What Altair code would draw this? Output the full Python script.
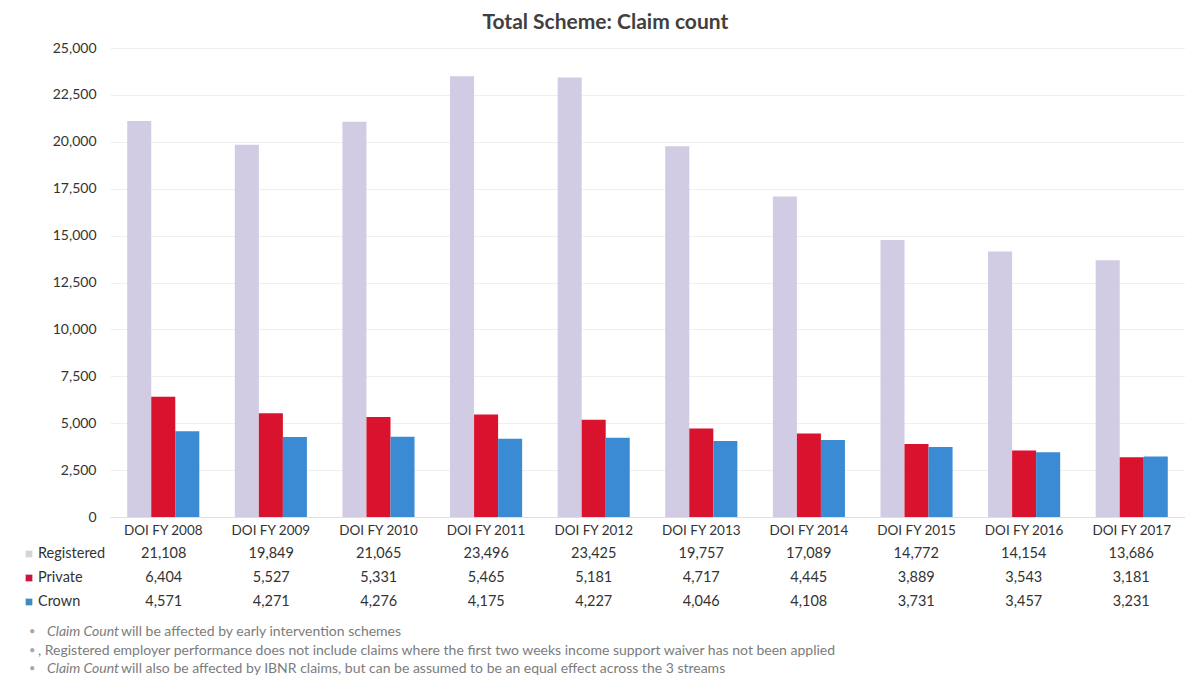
import altair as alt
import pandas as pd

categories = ["DOI FY 2008", "DOI FY 2009", "DOI FY 2010", "DOI FY 2011", "DOI FY 2012",
              "DOI FY 2013", "DOI FY 2014", "DOI FY 2015", "DOI FY 2016", "DOI FY 2017"]
series_names = ["Registered", "Private", "Crown"]
registered = [21108, 19849, 21065, 23496, 23425, 19757, 17089, 14772, 14154, 13686]
private = [6404, 5527, 5331, 5465, 5181, 4717, 4445, 3889, 3543, 3181]
crown = [4571, 4271, 4276, 4175, 4227, 4046, 4108, 3731, 3457, 3231]
series_colors = ["#d1cbe3", "#d9132e", "#3b8bd4"]
legend_colors = ["#d4d4d8", "#c8173f", "#3a8cc6"]

footnote_italic = ["Claim Count", "", "Claim Count"]
footnote_rest = [" will be affected by early intervention schemes",
                 ", Registered employer performance does not include claims where the first two weeks income support waiver has not been applied",
                 " will also be affected by IBNR claims, but can be assumed to be an equal effect across the 3 streams"]

rows = []
for s, vals in zip(series_names, [registered, private, crown]):
    for c, v in zip(categories, vals):
        rows.append({"category": c, "series": s, "value": v})
df = pd.DataFrame(rows)

legend_df = pd.DataFrame({"series": series_names, "lcolor": legend_colors})
foot_df = pd.DataFrame({"idx": [0, 1, 2], "italic": footnote_italic, "rest": footnote_rest,
                        "bullet": ["•", "•", "•"]})

FONT = "Lato"
W = 1075
TXT = "#333333"
FOOT = "#7c7c7c"

xscale = alt.Scale(domain=categories, paddingInner=0.33, paddingOuter=0.16)
cscale = alt.Scale(domain=series_names, range=series_colors)

bars = alt.Chart(df).mark_bar().encode(
    x=alt.X("category:N", scale=xscale, sort=categories,
            axis=alt.Axis(title=None, labelAngle=0, ticks=False, labelFontSize=13.5,
                          labelColor=TXT, labelPadding=6, domainColor="#e0e0e0",
                          labelFont=FONT)),
    xOffset=alt.XOffset("series:N", sort=series_names, scale=alt.Scale(paddingInner=0, paddingOuter=0)),
    y=alt.Y("value:Q", scale=alt.Scale(domain=[0, 25000]),
            axis=alt.Axis(title=None, values=list(range(0, 25001, 2500)), format=",.0f",
                          ticks=False, domain=False, gridColor="#efefef",
                          labelFontSize=14, labelColor=TXT, labelPadding=14,
                          labelFont=FONT)),
    color=alt.Color("series:N", scale=cscale, legend=None),
).properties(width=W, height=469)

yrow = alt.Y("series:N", sort=series_names, axis=None,
             scale=alt.Scale(domain=series_names, paddingInner=0, paddingOuter=0))

table_vals = alt.Chart(df).mark_text(fontSize=14.5, color=TXT, font=FONT).encode(
    x=alt.X("category:N", scale=xscale, sort=categories, axis=None),
    y=yrow,
    text=alt.Text("value:Q", format=",.0f"),
)
table_sq = alt.Chart(legend_df).mark_square(size=45, opacity=1).encode(
    x=alt.value(-81),
    y=yrow,
    color=alt.Color("lcolor:N", scale=None),
)
table_lab = alt.Chart(legend_df).mark_text(align="left", fontSize=14.5, color=TXT, font=FONT).encode(
    x=alt.value(-72),
    y=yrow,
    text="series:N",
)
table = alt.layer(table_vals, table_sq, table_lab).properties(width=W, height=72)

yfoot = alt.Y("idx:Q", axis=None, scale=alt.Scale(domain=[-0.703, 2.54], reverse=True, nice=False, zero=False))
foot_b = alt.Chart(foot_df).mark_text(align="left", fontSize=11, color="#a8a8a8", font=FONT).encode(
    x=alt.value(-81), y=yfoot, text="bullet:N")
foot_i = alt.Chart(foot_df).mark_text(align="left", fontSize=14, color=FOOT, font=FONT,
                                      fontStyle="italic").encode(
    x=alt.value(-63), y=yfoot, text="italic:N")
foot_r_italic = alt.Chart(foot_df).transform_filter("datum.italic != ''").mark_text(
    align="left", fontSize=14, color=FOOT, font=FONT).encode(
    x=alt.value(11), y=yfoot, text="rest:N")
foot_r_plain = alt.Chart(foot_df).transform_filter("datum.italic == ''").mark_text(
    align="left", fontSize=14, color=FOOT, font=FONT).encode(
    x=alt.value(-72), y=yfoot, text="rest:N")
foot = alt.layer(foot_b, foot_i, foot_r_italic, foot_r_plain).properties(width=W, height=60)

chart = alt.vconcat(bars, table, foot).properties(
    title=alt.TitleParams("Total Scheme: Claim count", fontSize=21, font=FONT, fontWeight="bold",
                          color="#404040", anchor="middle", offset=8),
    padding={"left": 17, "top": 4, "right": 0, "bottom": 0},
).configure_view(stroke=None).configure_concat(spacing=5)

chart.save("out.html", embed_options={"renderer": "svg", "actions": False})
